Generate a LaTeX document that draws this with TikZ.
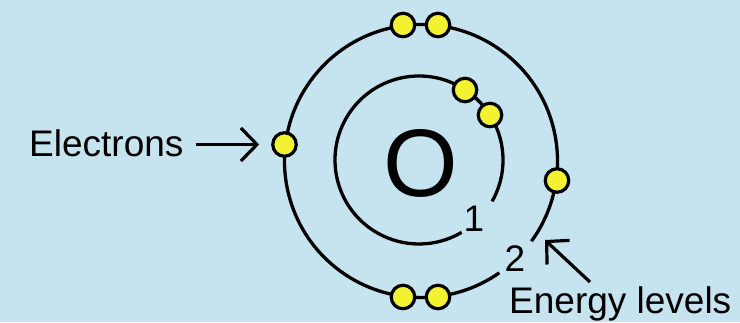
\documentclass[tikz,border=0pt]{standalone}
\usepackage{fontspec}
\setmainfont{Liberation Sans}
\usetikzlibrary{arrows.meta}
\definecolor{bgblue}{RGB}{197,228,240}
\definecolor{eyellow}{RGB}{242,242,48}
\tikzset{
  electron/.style={circle, draw=black, line width=3.2pt, fill=eyellow, minimum size=23.5pt, inner sep=0pt},
  orbit/.style={line width=3.3pt},
  lbl/.style={inner sep=0pt, font=\fontsize{37}{40}\selectfont},
  ptr/.style={line width=3.2pt, -{Straight Barb[length=16pt,width=33pt]}}
}
\begin{document}
\begin{tikzpicture}[x=1pt,y=1pt]
\fill[bgblue] (0,0) rectangle (740,322);
\useasboundingbox (0,0) rectangle (740,322);
% orbits
\draw[orbit] (419,162) ++(-29.5:84) arc[start angle=-29.5, end angle=300.5, radius=84];
\draw[orbit] (421,161) ++(-36:136.5) arc[start angle=-36, end angle=305, radius=136.5];
% nucleus
\node[inner sep=0pt, font=\fontsize{96}{100}\selectfont] (nuc) at (421,159) {O};
% electrons
\node[electron] (eT1) at (403,297) {};
\node[electron] (eT2) at (438,297) {};
\node[electron] (eB1) at (403,25) {};
\node[electron] (eB2) at (438,25) {};
\node[electron] (eL) at (284.5,177.5) {};
\node[electron] (eR) at (557,141.5) {};
\node[electron] (eI1) at (465,232) {};
\node[electron] (eI2) at (490,207) {};
% level labels
\node[lbl] (n1) at (474,103) {1};
\node[lbl] (n2) at (515,63) {2};
% Electrons label
\node[lbl, anchor=base west] (elab) at (29,165.3) {Electrons};
\draw[ptr, shorten <=12pt, shorten >=12pt] (elab.east |- eL) -- (eL.west);
% Energy levels label
\node[lbl, anchor=base west] (llab) at (509,9) {Energy levels};
\coordinate (ptail) at (590,40);
\coordinate (ptip) at (545,82);
\draw[ptr] (ptail) -- (ptip);
\end{tikzpicture}
\end{document}
